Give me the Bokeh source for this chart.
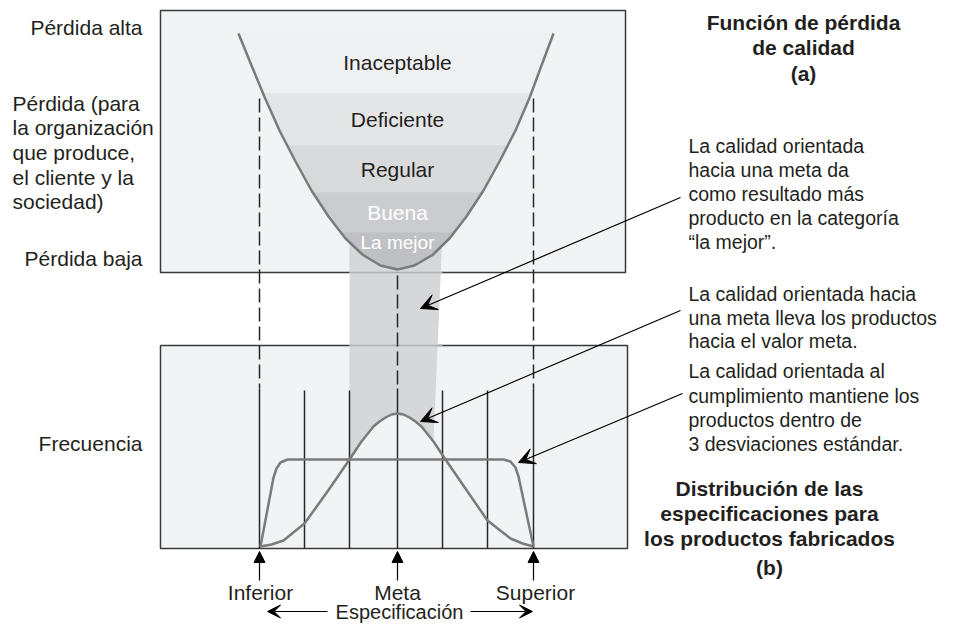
import numpy as np
from bokeh.plotting import figure
from bokeh.models import Range1d, Arrow, VeeHead, NormalHead
from bokeh.core.properties import value
from bokeh.embed import file_html
from bokeh.resources import INLINE

# ---------------- data (pixel units) ----------------
# loss function curve (left half, top -> vertex) and right half
loss_left_x = [238, 251, 264.5, 279, 295, 311, 328, 345, 362.5, 380, 397]
loss_left_y = [33, 65, 97.5, 130, 161, 190, 216, 238, 254.5, 265, 269]
loss_right_x = [553, 541, 529, 515, 499, 483, 466, 449, 432, 414, 397]
loss_right_y = [33, 65, 97.5, 130, 161, 190, 216, 238, 254.5, 265, 269]

band_names = ["Inaceptable", "Deficiente", "Regular", "Buena", "La mejor"]
band_edges = [33, 93, 145, 192, 232, 269]
band_colors = ["#eff0f2", "#e4e5e7", "#d9dadc", "#cbcccf", "#bfc0c3"]
band_label_y = [62, 119, 169, 212, 242]
band_label_color = ["#231f20", "#231f20", "#231f20", "#ffffff", "#ffffff"]
band_label_size = ["21px", "21px", "21px", "21px", "19px"]

# target-oriented distribution (bell) and conformance distribution (flat)
bell_x = [260, 271, 283, 304, 327, 338, 349, 361, 373, 379, 385, 391, 397,
          403, 409, 415, 421, 433, 445, 456, 467, 487, 510, 522, 533]
bell_y = [546, 544, 540, 523, 491, 475, 459, 441, 426, 421, 417, 414, 413,
          414, 417, 421, 426, 441, 459, 475, 491, 520, 538, 543, 546]
flat_x = [260, 273, 276, 280, 287, 503, 510, 515, 518, 533]
flat_y = [546, 477, 468, 462, 459, 459, 461, 467, 476, 546]

spec_x = [259, 397, 533]
spec_labels = ["Inferior", "Meta", "Superior"]
inner_lines_x = [304, 349, 442, 487]

FONT = value("Liberation Sans")
TXT = "#231f20"
FS = "21px"

p = figure(width=941, height=623, x_range=Range1d(0, 941), y_range=Range1d(623, 0),
           output_backend="svg", toolbar_location=None, min_border=0,
           x_axis_location=None, y_axis_location=None)
p.grid.visible = False
p.outline_line_color = None
p.background_fill_color = "white"
p.border_fill_color = "white"

BOX_BG = "#f2f3f5"
BOX_LINE = "#3a3a3a"

# boxes
p.quad(left=[160, 160], right=[625, 627], top=[10, 345], bottom=[272, 548],
       fill_color=BOX_BG, line_color=BOX_LINE, line_width=1.5)

# gray column ("la mejor" zone) down to the bell curve
col_l, col_r = inner_lines_x[1], inner_lines_x[2]
cx = [col_l, col_r]
cy = [232, 232]
sel = [(x, y) for x, y in zip(bell_x, bell_y) if col_l <= x <= col_r]
for x, y in reversed(sel):
    cx.append(x)
    cy.append(y)
p.patch(cx, cy, fill_color="#d6d7d9", line_color=None)
p.segment(x0=[col_l, col_l], y0=[272, 345], x1=[col_r, col_r], y1=[272, 345],
          line_color="#aeafb1", line_width=1.5)

# bands inside the loss curve
LX = np.array(loss_left_x, float); LY = np.array(loss_left_y, float)
RX = np.array(loss_right_x, float); RY = np.array(loss_right_y, float)
xs_b, ys_b = [], []
for i in range(len(band_names)):
    y0, y1 = band_edges[i], band_edges[i + 1]
    lpts = [(float(np.interp(y0, LY, LX)), y0)] + \
           [(x, y) for x, y in zip(loss_left_x, loss_left_y) if y0 < y < y1] + \
           [(float(np.interp(y1, LY, LX)), y1)]
    rpts = [(float(np.interp(y0, RY, RX)), y0)] + \
           [(x, y) for x, y in zip(loss_right_x, loss_right_y) if y0 < y < y1] + \
           [(float(np.interp(y1, RY, RX)), y1)]
    pts = lpts + list(reversed(rpts))
    xs_b.append([q[0] for q in pts])
    ys_b.append([q[1] for q in pts])
p.patches(xs_b, ys_b, fill_color=band_colors, line_color=band_colors, line_width=0.5)

# loss curve
p.line(loss_left_x + loss_right_x[::-1][1:], loss_left_y + loss_right_y[::-1][1:],
       line_color="#7b7b7b", line_width=2.5)

# vertical lines
LINE = "#262626"
p.segment(x0=[spec_x[0], spec_x[2], spec_x[1]], y0=[98, 98, 275],
          x1=[spec_x[0], spec_x[2], spec_x[1]], y1=[388, 388, 388],
          line_color=LINE, line_width=1.5, line_dash="14 5")
p.segment(x0=spec_x, y0=[388] * 3, x1=spec_x, y1=[548] * 3,
          line_color=LINE, line_width=1.5)
p.segment(x0=inner_lines_x, y0=[390] * 4, x1=inner_lines_x, y1=[548] * 4,
          line_color=LINE, line_width=1.5)

# distributions
p.line(flat_x, flat_y, line_color="#7b7b7b", line_width=2.5)
p.line(bell_x, bell_y, line_color="#7b7b7b", line_width=2.5)

# band labels
p.text(x=[397] * 5, y=band_label_y, text=band_names, text_font=FONT,
       text_font_size=band_label_size, text_color=band_label_color,
       text_align="center", text_baseline="middle")

# callout arrows
for (xs, ys, xe, ye) in [(680, 197, 420, 308), (680, 310, 420, 421), (682, 393, 518, 462)]:
    p.add_layout(Arrow(end=VeeHead(size=16, fill_color="black", line_color="black"),
                       x_start=xs, y_start=ys, x_end=xe, y_end=ye,
                       line_color="black", line_width=1.2))

# spec arrows
for x in spec_x:
    p.add_layout(Arrow(end=NormalHead(size=11, fill_color="black", line_color="black"),
                       x_start=x, y_start=580, x_end=x, y_end=551,
                       line_color="black", line_width=1.2))
for (xs, xe) in [(327, 267), (470, 532)]:
    p.add_layout(Arrow(end=VeeHead(size=13, fill_color="black", line_color="black"),
                       x_start=xs, y_start=611, x_end=xe, y_end=611,
                       line_color="black", line_width=1.2))

# spec labels
p.text(x=[260, 397, 535], y=[592] * 3,
       text=spec_labels, text_font=FONT, text_font_size=FS,
       text_color=TXT, text_align="center", text_baseline="middle")
p.text(x=[399], y=[611], text=["Especificación"], text_font=FONT, text_font_size="20px",
       text_color=TXT, text_align="center", text_baseline="middle")

# left labels
p.text(x=[142, 142, 142], y=[27, 258, 443], text=["Pérdida alta", "Pérdida baja", "Frecuencia"],
       text_font=FONT, text_font_size=FS, text_color=TXT,
       text_align="right", text_baseline="middle")
left_lines = ["Pérdida (para", "la organización", "que produce,", "el cliente y la", "sociedad)"]
p.text(x=[12] * 5, y=[103, 127, 152, 177, 201], text=left_lines,
       text_font=FONT, text_font_size=FS, text_color=TXT,
       text_align="left", text_baseline="middle")

# right annotations
note1 = ["La calidad orientada", "hacia una meta da", "como resultado más",
         "producto en la categoría", "\u201cla mejor\u201d."]
note2 = ["La calidad orientada hacia", "una meta lleva los productos", "hacia el valor meta."]
note3 = ["La calidad orientada al", "cumplimiento mantiene los", "productos dentro de",
         "3 desviaciones estándar."]
p.text(x=[688] * 12, y=[145, 169, 193, 217, 241, 293, 317, 340, 370, 395, 419, 443],
       text=note1 + note2 + note3, text_font=FONT, text_font_size="19.5px",
       text_color=TXT, text_align="left", text_baseline="middle")

# bold titles
title_a = ["Función de pérdida", "de calidad", "(a)"]
title_b = ["Distribución de las", "especificaciones para", "los productos fabricados", "(b)"]
p.text(x=[803] * 3 + [769] * 4, y=[22, 47, 73, 488, 513, 538, 567],
       text=title_a + title_b, text_font=FONT, text_font_size=FS,
       text_font_style="bold", text_color=TXT, text_align="center", text_baseline="middle")

open("out.html", "w").write(file_html(p, INLINE))
